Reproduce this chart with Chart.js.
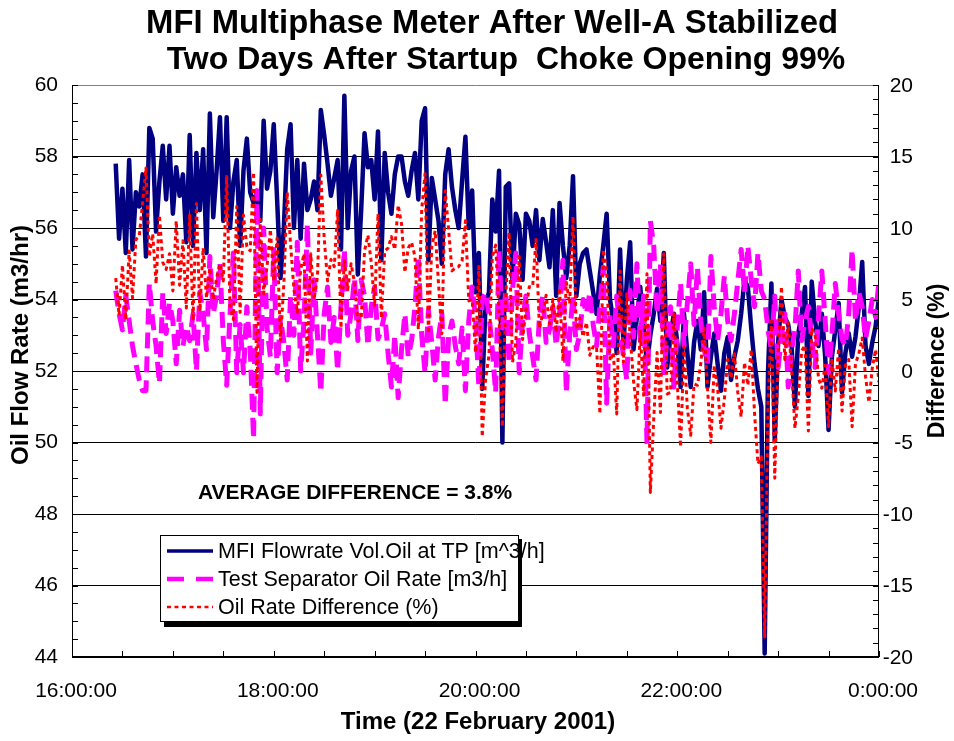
<!DOCTYPE html>
<html><head><meta charset="utf-8">
<script src="https://cdn.jsdelivr.net/npm/chart.js@4.4.1/dist/chart.umd.min.js"></script>
<style>html,body{margin:0;padding:0;background:#fff}canvas{display:block}</style>
</head><body>
<canvas id="c" width="954" height="741"></canvas>
<script>
// Time of each reading, minutes after 16:00:00 (22 Feb 2001)
const minutesAfter1600 = [
 26,28,30,32,34,36,38,40,42,44,
 46,48,50,52,54,56,58,60,62,64,
 66,68,70,72,74,76,78,80,82,84,
 86,88,90,92,94,96,98,100,102,104,
 106,108,110,112,114,116,118,120,122,124,
 126,128,130,132,134,136,138,140,142,144,
 146,148,150,152,154,156,158,160,162,164,
 166,168,170,172,174,176,178,180,182,184,
 186,188,190,192,194,196,198,200,202,204,
 206,208,210,212,214,216,218,220,222,224,
 226,228,230,232,234,236,238,240,242,244,
 246,248,250,252,254,256,258,260,262,264,
 266,268,270,272,274,276,278,280,282,284,
 286,288,290,292,294,296,298,300,302,304,
 306,308,310,312,314,316,318,320,322,324,
 326,328,330,332,334,336,338,340,342,344,
 346,348,350,352,354,356,358,360,362,364,
 366,368,370,372,374,376,378,380,382,384,
 386,388,390,392,394,396,398,400,402,404,
 406,408,410,412,414,416,418,420,422,424,
 426,428,430,432,434,436,438,440,442,444,
 446,448,450,452,454,456,458,460,462,464,
 466,468,470,472,474,476,478,480];

// MFI Flowrate Vol.Oil at TP [m^3/h]  (left axis)
const mfiOilRate = [
 57.8,55.7,57.1,55.3,57.9,55.4,57.0,56.6,57.5,55.2,
 58.8,58.5,55.9,57.3,58.3,56.8,58.3,56.4,57.7,56.9,
 57.5,55.6,58.6,55.5,58.1,56.5,58.2,55.3,59.2,56.3,
 57.6,59.1,56.2,59.1,56.0,57.3,57.9,55.5,57.6,58.5,
 57.0,56.7,57.0,56.2,59.0,57.1,57.6,58.9,56.8,54.6,
 56.0,58.2,58.9,56.0,57.9,55.7,57.8,56.5,56.8,57.3,
 56.5,59.3,58.6,57.8,56.9,57.4,57.9,55.4,59.7,56.0,
 57.6,58.0,54.7,56.5,58.65,57.7,57.9,56.8,58.7,55.1,
 58.1,57.0,56.4,57.5,58.0,58.0,57.3,56.9,57.6,58.1,
 56.8,59.0,59.35,55.1,57.4,56.8,56.2,55.0,57.5,58.2,
 57.15,56.5,56.0,57.3,58.55,56.0,57.05,54.2,55.3,51.5,
 53.9,54.2,56.8,55.9,57.6,50.0,57.15,57.25,54.55,56.4,
 56.1,54.55,56.4,56.2,55.5,56.5,55.1,56.25,55.6,54.9,
 56.5,54.1,56.7,55.5,54.6,55.5,57.45,54.1,55.0,55.3,
 55.4,54.8,54.2,53.6,54.7,55.5,56.4,54.0,53.4,52.5,
 55.4,52.7,54.55,55.6,52.6,53.5,54.35,53.2,52.2,53.0,
 53.6,54.3,53.4,55.3,52.1,53.0,53.6,52.8,51.55,53.6,
 52.5,51.55,52.8,53.4,52.6,54.2,51.55,52.4,53.05,52.2,
 51.45,52.5,52.95,51.75,52.4,52.85,53.6,54.55,54.35,53.2,
 52.2,51.5,51.0,44.1,52.0,54.45,50.05,52.8,54.0,53.5,
 53.3,52.7,51.0,53.05,53.6,54.35,51.3,54.5,53.4,52.7,
 53.6,52.4,50.35,52.4,53.15,53.9,51.4,52.5,53.05,52.4,
 52.95,53.8,55.05,52.7,52.2,52.8,53.25,54.1];

// Test Separator Oil Rate [m3/h]  (left axis)
const testSepOilRate = [
 54.25,53.6,53.15,54.1,53.4,52.7,52.2,51.75,51.45,51.45,
 54.45,53.4,52.7,51.65,54.2,53.05,53.9,53.4,52.2,53.7,
 52.7,53.25,52.85,53.6,52.0,54.2,53.6,52.6,55.2,53.6,
 54.1,55.0,52.85,51.6,53.6,55.3,51.95,53.3,51.95,53.8,
 52.6,50.1,57.05,50.8,56.0,53.2,52.4,55.4,51.95,53.5,
 52.8,51.75,54.1,53.0,55.6,52.0,53.4,56.1,52.5,54.55,
 53.0,51.4,53.6,54.35,52.8,53.5,52.0,53.8,55.4,53.0,
 53.6,54.6,52.85,54.55,54.1,52.7,53.8,54.35,52.9,53.15,
 53.6,52.5,51.55,53.0,51.25,52.6,53.6,52.4,52.85,53.8,
 55.2,53.0,51.95,53.7,52.8,51.75,52.95,53.6,51.05,52.95,
 53.4,52.7,52.2,53.2,51.45,53.4,54.35,53.5,51.55,54.0,
 54.2,53.6,52.6,51.4,55.4,53.2,54.25,52.2,54.25,55.3,
 51.95,53.4,54.1,53.05,52.4,51.75,53.5,54.1,52.8,53.15,
 53.8,52.7,53.6,55.1,51.4,53.0,54.1,52.6,53.05,54.0,
 53.6,54.2,53.3,52.7,53.8,54.9,51.1,53.6,52.7,54.1,
 53.15,52.4,51.75,54.25,52.95,55.0,52.85,54.1,49.95,56.2,
 55.5,53.6,55.0,51.95,52.95,53.8,51.55,53.2,54.45,52.7,
 53.9,55.0,53.3,54.9,53.4,52.6,52.2,55.2,53.8,52.85,
 53.6,54.65,53.4,52.85,53.6,54.5,55.4,54.2,55.5,54.55,
 53.8,55.3,54.25,54.0,53.15,52.6,54.1,52.1,53.0,53.6,
 51.55,52.6,53.15,54.8,52.85,53.4,53.8,52.9,52.1,53.5,
 54.8,53.4,51.95,53.0,54.45,53.6,52.9,52.7,53.6,55.4,
 53.4,54.2,53.8,52.9,53.4,54.0,53.5,54.55];

// Oil Rate Difference (%)  (right axis)
const oilRateDiffPct = [
 6.5,3.9,7.4,3.6,8.4,5.1,9.2,9.4,11.8,14.2,
 8.0,9.6,6.1,10.9,7.6,7.1,8.2,5.6,10.5,6.0,
 9.1,4.4,10.9,3.5,11.7,4.2,8.6,5.1,7.2,5.0,
 6.5,7.5,6.3,13.6,4.5,3.6,11.5,4.1,10.9,8.7,
 8.4,13.9,-1.5,10.6,5.4,7.3,9.9,6.3,9.3,2.1,
 6.1,12.5,8.9,5.7,4.1,7.1,8.2,0.7,8.2,5.0,
 6.6,13.7,9.3,6.3,7.8,7.3,11.3,3.0,7.8,5.7,
 7.5,6.2,3.5,3.6,8.4,9.5,7.6,4.5,11.0,3.7,
 8.4,8.6,9.4,8.5,11.6,10.3,6.9,8.6,9.0,8.0,
 2.9,11.3,13.8,2.6,8.7,9.8,6.1,2.6,12.6,9.9,
 7.0,7.2,7.3,7.7,10.5,4.9,5.0,1.3,7.3,-4.6,
 -0.6,1.1,8.0,8.8,4.0,-3.9,5.3,9.7,0.6,2.0,
 8.0,2.2,4.3,5.9,5.9,9.2,3.0,4.0,5.3,3.3,
 5.0,2.7,5.8,0.7,6.2,4.7,10.8,2.9,3.7,2.4,
 3.4,1.1,1.7,1.7,-3.0,8.5,7.0,0.7,1.3,-3.0,
 7.0,0.6,5.4,2.5,-0.7,-2.7,2.8,-1.7,6.8,-8.5,
 -3.4,1.3,-2.9,8.2,-1.6,-1.5,4.0,-0.8,-5.3,1.7,
 -2.6,-4.5,-0.9,-1.0,0.5,3.0,-1.2,-5.0,0.4,-1.2,
 -4.0,-2.0,0.8,-0.5,1.2,-1.5,-3.2,0.6,-1.0,1.5,
 -3.0,-6.5,-6.0,-18.6,-2.2,3.5,-7.5,1.3,5.9,0.8,
 3.4,0.2,-4.0,-1.8,1.4,1.8,-4.2,3.0,2.5,-0.5,
 -1.2,0.4,-3.9,0.9,-1.4,1.6,-2.8,0.4,0.8,-3.9,
 0.5,1.2,2.3,-0.4,-2.2,0.2,1.5,-0.8];

const seriesNames = ['MFI Flowrate Vol.Oil at TP [m^3/h]', 'Test Separator Oil Rate [m3/h]', 'Oil Rate Difference (%)'];
const titleLines = ['MFI Multiphase Meter After Well-A Stabilized', 'Two Days After Startup  Choke Opening 99%'];
const leftAxisTitle = 'Oil Flow Rate (m3/hr)';
const rightAxisTitle = 'Difference (%)';
const xAxisTitle = 'Time (22 February 2001)';
const noteText = 'AVERAGE DIFFERENCE = 3.8%';

const FONT = '"Liberation Sans", Arial, Helvetica, sans-serif';
const toPts = arr => minutesAfter1600.map((m, i) => ({x: m, y: arr[i]}));

const decor = {
  id: 'decor',
  beforeDraw(chart) {
    const c = chart.ctx;
    c.save(); c.fillStyle = '#fff'; c.fillRect(0, 0, chart.width, chart.height); c.restore();
  },
  afterDatasetsDraw(chart) {
    const c = chart.ctx, a = chart.chartArea;
    const xs = chart.scales.x, yl = chart.scales.y, yr = chart.scales.yR;
    c.save();
    // frame
    c.lineWidth = 1;
    c.strokeStyle = '#808080';
    c.beginPath(); c.moveTo(a.left, a.top + 0.5); c.lineTo(a.right, a.top + 0.5); c.stroke();
    c.strokeStyle = '#000';
    c.beginPath();
    c.moveTo(a.left + 0.5, a.top); c.lineTo(a.left + 0.5, a.bottom);
    c.moveTo(a.right - 0.5, a.top); c.lineTo(a.right - 0.5, a.bottom);
    c.stroke();
    c.lineWidth = 2;
    c.beginPath(); c.moveTo(a.left, a.bottom); c.lineTo(a.right, a.bottom); c.stroke();
    // inward tick marks
    c.lineWidth = 1;
    c.beginPath();
    for (let m = xs.min; m <= xs.max; m += 30) {
      const px = Math.round(xs.getPixelForValue(m)) + 0.5;
      c.moveTo(px, a.bottom); c.lineTo(px, a.bottom - 6);
    }
    for (let v = yl.min; v <= yl.max; v += 0.5) {
      const py = Math.round(yl.getPixelForValue(v)) + 0.5;
      c.moveTo(a.left, py); c.lineTo(a.left + 6, py);
    }
    for (let v = yr.min; v <= yr.max; v += 1) {
      const py = Math.round(yr.getPixelForValue(v)) + 0.5;
      c.moveTo(a.right, py); c.lineTo(a.right - 6, py);
    }
    c.stroke();
    // right axis tick labels (right aligned)
    c.fillStyle = '#000';
    c.font = '21px ' + FONT;
    c.textAlign = 'right';
    c.textBaseline = 'middle';
    yr.ticks.forEach(t => {
      c.fillText(String(t.value), 913, yr.getPixelForValue(t.value) + 1);
    });
    // titles
    c.textAlign = 'center';
    c.textBaseline = 'alphabetic';
    c.font = 'bold 32.8px ' + FONT;
    c.fillText(titleLines[0], 492, 33);
    c.font = 'bold 32px ' + FONT;
    c.fillText(titleLines[1], 506, 69);
    c.font = 'bold 24px ' + FONT;
    c.textBaseline = 'middle';
    c.fillText(xAxisTitle, 478, 722);
    c.save(); c.translate(21, 345); c.rotate(-Math.PI / 2); c.fillText(leftAxisTitle, 0, 0); c.restore();
    c.font = 'bold 23px ' + FONT;
    c.save(); c.translate(938, 361); c.rotate(-Math.PI / 2); c.fillText(rightAxisTitle, 0, 0); c.restore();
    // note
    c.textAlign = 'left';
    c.textBaseline = 'alphabetic';
    c.font = 'bold 21px ' + FONT;
    c.fillText(noteText, 198, 499);
    // legend
    const bx = 160, by = 535, bw = 358, bh = 86;
    c.fillStyle = '#000';
    c.fillRect(bx + 4, by + 4, bw, bh + 2);
    c.fillStyle = '#fff';
    c.fillRect(bx, by, bw, bh);
    c.strokeStyle = '#000'; c.lineWidth = 1;
    c.strokeRect(bx + 0.5, by + 0.5, bw, bh);
    const rows = [551, 579, 607];
    const ds = [chart.data.datasets[2], chart.data.datasets[1], chart.data.datasets[0]];
    const legendDash = [[], [17, 12], [4, 3.5]];
    const legendWidth = [3.5, 4.5, 2.5];
    c.font = '21.5px ' + FONT;
    c.textBaseline = 'middle';
    rows.forEach((ry, i) => {
      const d = ds[i];
      c.save();
      c.strokeStyle = d.borderColor; c.lineWidth = legendWidth[i];
      c.setLineDash(legendDash[i]);
      c.beginPath(); c.moveTo(167, ry); c.lineTo(213, ry); c.stroke();
      c.restore();
      c.fillStyle = '#000';
      c.fillText(d.label, 218, ry + 1);
    });
    c.restore();
  }
};

new Chart(document.getElementById('c'), {
  type: 'line',
  data: {
    datasets: [
      {label: seriesNames[2], data: toPts(oilRateDiffPct), yAxisID: 'yR', borderColor: '#FF0000', borderWidth: 3, borderDash: [4, 3.5], order: 0},
      {label: seriesNames[1], data: toPts(testSepOilRate), yAxisID: 'y', borderColor: '#FF00FF', borderWidth: 5, borderDash: [16, 8], order: 1},
      {label: seriesNames[0], data: toPts(mfiOilRate), yAxisID: 'y', borderColor: '#000080', borderWidth: 4.5, order: 2}
    ]
  },
  options: {
    responsive: false, animation: false, devicePixelRatio: 1,
    layout: {padding: {top: 85, left: 0, right: 0, bottom: 0}},
    plugins: {legend: {display: false}, tooltip: {enabled: false}, title: {display: false}},
    elements: {line: {tension: 0, borderJoinStyle: 'round', fill: false}, point: {radius: 0}},
    scales: {
      x: {
        type: 'linear', min: 0, max: 480,
        ticks: {stepSize: 120, autoSkip: false, maxRotation: 0, padding: 22, labelOffset: 4, color: '#000', font: {size: 21, family: FONT},
          callback: v => ((16 + v / 60) % 24) + ':00:00'},
        grid: {display: false, drawTicks: false}, border: {display: false},
        afterFit: s => { s.height = 84; }
      },
      y: {
        position: 'left', min: 44, max: 60,
        ticks: {stepSize: 2, padding: 14, color: '#000', font: {size: 21, family: FONT}},
        grid: {drawTicks: false, lineWidth: 1, color: ctx => (ctx.tick && ctx.tick.value === 60) ? 'rgba(0,0,0,0)' : '#000'},
        border: {display: false},
        afterFit: s => { s.width = 72; }
      },
      yR: {
        position: 'right', min: -20, max: 20,
        ticks: {stepSize: 5, display: false},
        grid: {display: false, drawTicks: false}, border: {display: false},
        afterFit: s => { s.width = 75; }
      }
    }
  },
  plugins: [decor]
});
</script>
</body></html>
